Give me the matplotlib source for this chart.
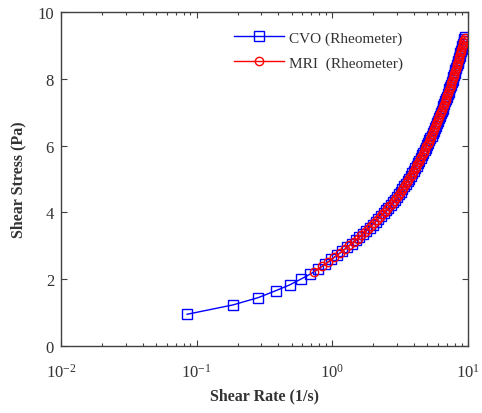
import matplotlib
matplotlib.use("Agg")
import matplotlib.pyplot as plt
from matplotlib.ticker import LogLocator, FixedLocator

plt.rcParams['font.family'] = ['Liberation Serif', 'DejaVu Serif']
plt.rcParams['mathtext.fontset'] = 'stix'

# CVO (Rheometer) readings
cvo_rate = [0.085, 0.185, 0.285, 0.385, 0.485, 0.585, 0.685, 0.785, 0.885, 0.985,
            1.085, 1.185, 1.285, 1.385, 1.485, 1.585, 1.685, 1.785, 1.885, 1.985,
            2.085, 2.185, 2.285, 2.385, 2.485, 2.585, 2.685, 2.785, 2.885, 2.985,
            3.085, 3.185, 3.285, 3.385, 3.485, 3.585, 3.685, 3.785, 3.885, 3.985,
            4.085, 4.185, 4.285, 4.385, 4.485, 4.585, 4.685, 4.785, 4.885, 4.985,
            5.085, 5.185, 5.285, 5.385, 5.485, 5.585, 5.685, 5.785, 5.885, 5.985,
            6.085, 6.185, 6.285, 6.385, 6.485, 6.585, 6.685, 6.785, 6.885, 6.985,
            7.085, 7.185, 7.285, 7.385, 7.485, 7.585, 7.685, 7.785, 7.885, 7.985,
            8.085, 8.185, 8.285, 8.385, 8.485, 8.585, 8.685, 8.785, 8.885, 8.985,
            9.085, 9.185, 9.285, 9.385, 9.485]
cvo_stress = [0.95, 1.23, 1.45, 1.66, 1.83, 2.00, 2.15, 2.30, 2.45, 2.59,
              2.72, 2.84, 2.95, 3.06, 3.16, 3.26, 3.36, 3.45, 3.54, 3.63,
              3.72, 3.81, 3.89, 3.98, 4.06, 4.14, 4.22, 4.30, 4.38, 4.46,
              4.54, 4.62, 4.70, 4.78, 4.86, 4.93, 5.01, 5.09, 5.17, 5.25,
              5.32, 5.40, 5.48, 5.55, 5.63, 5.71, 5.78, 5.86, 5.94, 6.01,
              6.08, 6.16, 6.23, 6.30, 6.38, 6.45, 6.52, 6.60, 6.67, 6.74,
              6.81, 6.89, 6.96, 7.03, 7.10, 7.17, 7.25, 7.32, 7.39, 7.46,
              7.53, 7.61, 7.68, 7.75, 7.82, 7.89, 7.97, 8.04, 8.11, 8.18,
              8.25, 8.33, 8.40, 8.47, 8.54, 8.61, 8.69, 8.76, 8.83, 8.90,
              8.97, 9.05, 9.12, 9.19, 9.26]

# MRI (Rheometer) readings
mri_rate = [0.735, 0.835, 0.935, 1.035, 1.135, 1.235, 1.335, 1.435, 1.535, 1.635,
            1.735, 1.835, 1.935, 2.035, 2.135, 2.235, 2.335, 2.435, 2.535, 2.635,
            2.735, 2.835, 2.935, 3.035, 3.135, 3.235, 3.335, 3.435, 3.535, 3.635,
            3.735, 3.835, 3.935, 4.035, 4.135, 4.235, 4.335, 4.435, 4.535, 4.635,
            4.735, 4.835, 4.935, 5.035, 5.135, 5.235, 5.335, 5.435, 5.535, 5.635,
            5.735, 5.835, 5.935, 6.035, 6.135, 6.235, 6.335, 6.435, 6.535, 6.635,
            6.735, 6.835, 6.935, 7.035, 7.135, 7.235, 7.335, 7.435, 7.535, 7.635,
            7.735, 7.835, 7.935, 8.035, 8.135, 8.235, 8.335, 8.435, 8.535, 8.635,
            8.735, 8.835, 8.935, 9.035, 9.135, 9.235, 9.335, 9.435]
mri_stress = [2.23, 2.38, 2.52, 2.66, 2.78, 2.90, 3.01, 3.11, 3.21, 3.31,
              3.40, 3.50, 3.59, 3.68, 3.77, 3.85, 3.94, 4.02, 4.10, 4.18,
              4.26, 4.34, 4.42, 4.50, 4.58, 4.66, 4.74, 4.82, 4.90, 4.97,
              5.05, 5.13, 5.21, 5.29, 5.36, 5.44, 5.52, 5.59, 5.67, 5.75,
              5.82, 5.90, 5.98, 6.05, 6.12, 6.20, 6.27, 6.34, 6.42, 6.49,
              6.56, 6.64, 6.71, 6.78, 6.85, 6.93, 7.00, 7.07, 7.14, 7.21,
              7.29, 7.36, 7.43, 7.50, 7.57, 7.65, 7.72, 7.79, 7.86, 7.93,
              8.01, 8.08, 8.15, 8.22, 8.29, 8.37, 8.44, 8.51, 8.58, 8.65,
              8.73, 8.80, 8.87, 8.94, 9.01, 9.09, 9.16, 9.23]

y_ticks = [0, 2, 4, 6, 8, 10]

fig = plt.figure(figsize=(4.82, 4.14), dpi=100)
ax = fig.add_axes([0.1266, 0.1618, 0.8444, 0.807])

ax.plot(cvo_rate, cvo_stress, color='#0000ff', marker='s', markersize=7,
        markerfacecolor='none', markeredgewidth=1.0, linewidth=1.0,
        label='CVO (Rheometer)')
ax.plot(mri_rate, mri_stress, color='#ff0000', marker='o', markersize=6,
        markerfacecolor='none', markeredgewidth=1.0, linewidth=1.0,
        label='MRI  (Rheometer)')

ax.set_xscale('log')
ax.set_xlim(1e-2, 1e1)
ax.set_ylim(0, 10)
ax.yaxis.set_major_locator(FixedLocator(y_ticks))
ax.xaxis.set_major_locator(LogLocator(base=10, numticks=10))
ax.xaxis.set_minor_locator(LogLocator(base=10, subs=range(2, 10), numticks=10))

for s in ax.spines.values():
    s.set_color('#404040')
    s.set_linewidth(1.0)
ax.tick_params(which='both', direction='in', top=True, right=True,
               colors='#404040', labelcolor='#333333', labelsize=12)
ax.tick_params(which='major', length=4, width=0.8)
ax.tick_params(which='minor', length=2.5, width=0.8)
ax.tick_params(axis='x', pad=12)
ax.tick_params(axis='y', pad=5)

ax.set_xlabel('Shear Rate (1/s)', fontsize=11.5, fontweight='bold',
              color='#333333', labelpad=5)
ax.set_ylabel('Shear Stress (Pa)', fontsize=11.5, fontweight='bold',
              color='#333333', labelpad=8)

ax.legend(loc='upper left', bbox_to_anchor=(0.39, 0.985), frameon=False,
          fontsize=11, handlelength=3.3, labelspacing=0.75,
          handletextpad=0.3, labelcolor='#333333')

fig.savefig('out.png', dpi=100)
